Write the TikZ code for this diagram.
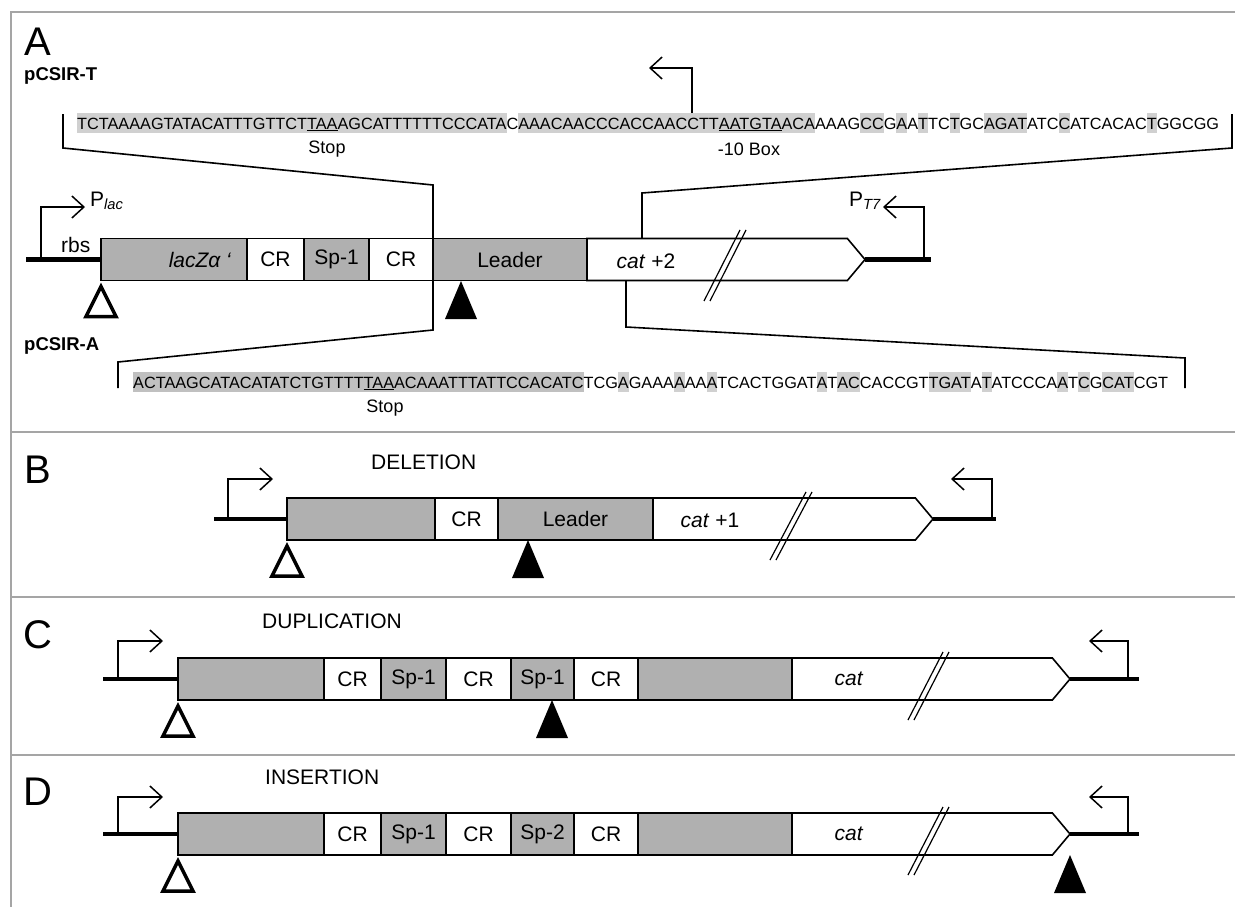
\documentclass[tikz,border=0pt]{standalone}
\usepackage{fontspec}
\setmainfont{Liberation Sans}
\usetikzlibrary{positioning, shapes.symbols, arrows.meta}
\definecolor{boxgray}{RGB}{176,176,176}
\definecolor{hlgray}{RGB}{208,208,208}
\definecolor{hldark}{RGB}{192,192,192}
\definecolor{framegray}{RGB}{165,165,165}
% highlighted bases
\newcommand{\seqhl}[1]{{\setlength{\fboxsep}{0pt}\colorbox{hlgray}{\rule[-4pt]{0pt}{20pt}#1}}}
\newcommand{\seqdk}[1]{{\setlength{\fboxsep}{0pt}\colorbox{hldark}{\rule[-4pt]{0pt}{20pt}#1}}}
\tikzset{
  opentri/.pic={\draw[line width=3.5pt, line join=miter] (0,6) -- (15,36) -- (-15,36) -- cycle;},
  filltri/.pic={\fill (0,0) -- (16,38) -- (-16,38) -- cycle;}
}
\begin{document}
\begin{tikzpicture}[x=1pt, y=-1pt,
		frame/.style={draw=framegray, line width=1.5pt},
		panel/.style={font=\fontsize{40}{44}\selectfont, inner sep=0pt},
		plasmid/.style={font=\bfseries\fontsize{18.5}{20}\selectfont, inner sep=0pt, anchor=west},
		seq/.style={font=\fontsize{16.27}{18}\selectfont, inner sep=0pt, anchor=base west},
		note/.style={font=\fontsize{18}{20}\selectfont, inner sep=0pt},
		mut/.style={font=\fontsize{21}{24}\selectfont, inner sep=0pt, anchor=west},
		seg/.style={rectangle, draw, line width=1.6pt, minimum height=42pt, inner sep=0pt, outer sep=0pt, font=\fontsize{21}{24}\selectfont},
		grayseg/.style={seg, fill=boxgray},
		whiteseg/.style={seg, fill=white},
		catseg/.style={seg, shape=signal, signal to=east, signal pointer angle=100, fill=white},
		lbl/.style={font=\fontsize{21}{24}\selectfont, inner sep=0pt},
		backbone/.style={line width=4.5pt},
		prom/.style={line width=1.5pt, -{Straight Barb[length=12pt, width=22pt, line width=1.5pt]}},
		bracket/.style={line width=1.6pt},
		cut/.style={line width=1.2pt}
		]
	\useasboundingbox (0,0) rectangle (1235,907);

	% --- frame ---
	\draw[frame] (1235,12) -- (11,12) -- (11,907);
	\draw[frame] (11,432) -- (1235,432);
	\draw[frame] (11,597) -- (1235,597);
	\draw[frame] (11,755) -- (1235,755);

	% --- A ---
	\node[panel] (labA) at (38,42) {A};
	\node[plasmid] (pT) at (24,76) {pCSIR-T};
	\node[plasmid] (pA) at (24,346) {pCSIR-A};

	\node[seq] (seqT) at (77,129) {\seqhl{TCTAAAAGTATACATTTGTTCT\underline{TAA}AGCATTTTTTCCCATA}C\seqhl{AAACAACCCACCAACCTT\underline{AATGTA}ACA}AAAG\seqhl{CC}G\seqhl{A}A\seqhl{T}TC\seqhl{T}GC\seqhl{AGAT}ATC\seqhl{C}ATCACAC\seqhl{T}GGCGG};
	\node[note] (stopT) at (327,149) {Stop};
	\node[note] (boxT) at (749,149) {-10 Box};

	\node[seq] (seqA) at (133,388) {\seqdk{ACTAAGCATACATATCTGTTTT\underline{TAA}ACAAATTTATTCCACATC}TCG\seqhl{A}GAAA\seqhl{A}AA\seqhl{A}TCACTGGAT\seqhl{A}T\seqhl{AC}CACCGT\seqhl{TGAT}A\seqhl{T}ATCCCA\seqhl{A}T\seqhl{C}G\seqhl{CAT}CGT};
	\node[note] (stopA) at (385,408) {Stop};

	\coordinate (m10) at (692,113);
	\coordinate (m10tip) at (649,68);
	\draw[prom] (m10) |- (m10tip);

	% gene
	\coordinate (bbA1) at (26,259.5);
	\node[grayseg, minimum width=146pt, anchor=west] (lacZ) at (101,259.5) {};
	\node[whiteseg, minimum width=57pt, right=0pt of lacZ] (crA1) {CR};
	\node[grayseg, minimum width=65pt, right=0pt of crA1] (spA) {Sp-1};
	\node[whiteseg, minimum width=64pt, right=0pt of spA] (crA2) {CR};
	\node[grayseg, minimum width=154pt, right=0pt of crA2] (ldrA) {Leader};
	\node[catseg, minimum width=278pt, right=0pt of ldrA] (catA) {};
	\coordinate (bbA2) at (931,259.5);
	\node[lbl] (lacZtxt) at (200,260) {\textit{lacZα ‘}};
	\node[lbl] (catAtxt) at (646,261) {\textit{cat} +2};
	\node[lbl, anchor=west] (rbs) at (61,245) {rbs};

	\draw[backbone] (bbA1) -- (lacZ.west);
	\draw[backbone] (catA.east) -- (bbA2);

	\coordinate (plac) at (41,259.5);
	\coordinate (plactip) at (85,207);
	\draw[prom] (plac) |- (plactip);
	\node[lbl, anchor=west] (Plac) at (90,201) {P\textsubscript{\itshape lac}};
	\coordinate (pt7) at (924,259.5);
	\coordinate (pt7tip) at (883,207);
	\draw[prom] (pt7) |- (pt7tip);
	\node[lbl, anchor=east] (PT7) at (881,201) {P\textsubscript{\itshape T7}};

	\draw[cut] (740,230) -- (704,301);
	\draw[cut] (746,230) -- (710,301);

	\pic at (lacZ.south west) {opentri};
	\pic at (461,281) {filltri};

	% brackets
	\coordinate (tL1) at (63,114);
	\coordinate (tL2) at (63,148);
	\coordinate (gL1) at (433,185);
	\coordinate (gL2) at (433,330);
	\coordinate (aL2) at (118,362);
	\coordinate (aL1) at (118,388);
	\draw[bracket] (tL1) -- (tL2) -- (gL1) -- (gL2) -- (aL2) -- (aL1);
	\coordinate (tR1) at (1232,114);
	\coordinate (tR2) at (1232,148);
	\coordinate (gR1) at (642,193);
	\coordinate (gR2) at (642,238);
	\draw[bracket] (tR1) -- (tR2) -- (gR1) -- (gR2);
	\coordinate (gR3) at (626,281);
	\coordinate (gR4) at (626,327);
	\coordinate (aR2) at (1185,358);
	\coordinate (aR1) at (1185,388);
	\draw[bracket] (gR3) -- (gR4) -- (aR2) -- (aR1);

	% --- B ---
	\node[panel] (labB) at (38,470) {B};
	\node[mut] (delB) at (371,462) {DELETION};
	\coordinate (bbB1) at (214,519);
	\node[grayseg, minimum width=148pt, anchor=west] (gB1) at (287,519) {};
	\node[whiteseg, minimum width=63pt, right=0pt of gB1] (crB) {CR};
	\node[grayseg, minimum width=155pt, right=0pt of crB] (ldrB) {Leader};
	\node[catseg, minimum width=280pt, right=0pt of ldrB] (catB) {};
	\coordinate (bbB2) at (996,519);
	\node[lbl] (catBtxt) at (710,520) {\textit{cat} +1};
	\draw[backbone] (bbB1) -- (gB1.west);
	\draw[backbone] (catB.east) -- (bbB2);
	\coordinate (pB1) at (228,519);
	\coordinate (pB1tip) at (273,479);
	\draw[prom] (pB1) |- (pB1tip);
	\coordinate (pB2) at (992,519);
	\coordinate (pB2tip) at (951,479);
	\draw[prom] (pB2) |- (pB2tip);
	\draw[cut] (806,492) -- (770,560);
	\draw[cut] (812,492) -- (776,560);
	\pic at (gB1.south west) {opentri};
	\pic at (528,540) {filltri};

	% --- C ---
	\node[panel] (labC) at (38,635) {C};
	\node[mut] (dupC) at (262,621) {DUPLICATION};
	\coordinate (bbC1) at (103,679);
	\node[grayseg, minimum width=146pt, anchor=west] (gC1) at (178,679) {};
	\node[whiteseg, minimum width=57pt, right=0pt of gC1] (crC1) {CR};
	\node[grayseg, minimum width=65pt, right=0pt of crC1] (spC1) {Sp-1};
	\node[whiteseg, minimum width=65pt, right=0pt of spC1] (crC2) {CR};
	\node[grayseg, minimum width=63pt, right=0pt of crC2] (spC2) {Sp-1};
	\node[whiteseg, minimum width=64pt, right=0pt of spC2] (crC3) {CR};
	\node[grayseg, minimum width=154pt, right=0pt of crC3] (gC2) {};
	\node[catseg, minimum width=278pt, right=0pt of gC2] (catC) {};
	\coordinate (bbC2) at (1139,679);
	\node[lbl] (catCtxt) at (849,679) {\textit{cat}};
	\draw[backbone] (bbC1) -- (gC1.west);
	\draw[backbone] (catC.east) -- (bbC2);
	\coordinate (pC1) at (118,679);
	\coordinate (pC1tip) at (163,641);
	\draw[prom] (pC1) |- (pC1tip);
	\coordinate (pC2) at (1128,679);
	\coordinate (pC2tip) at (1089,641);
	\draw[prom] (pC2) |- (pC2tip);
	\draw[cut] (943,652) -- (908,720);
	\draw[cut] (949,652) -- (914,720);
	\pic at (gC1.south west) {opentri};
	\pic at (552,700) {filltri};

	% --- D ---
	\node[panel] (labD) at (38,792) {D};
	\node[mut] (insD) at (265,777) {INSERTION};
	\coordinate (bbD1) at (103,834);
	\node[grayseg, minimum width=146pt, anchor=west] (gD1) at (178,834) {};
	\node[whiteseg, minimum width=57pt, right=0pt of gD1] (crD1) {CR};
	\node[grayseg, minimum width=65pt, right=0pt of crD1] (spD1) {Sp-1};
	\node[whiteseg, minimum width=65pt, right=0pt of spD1] (crD2) {CR};
	\node[grayseg, minimum width=63pt, right=0pt of crD2] (spD2) {Sp-2};
	\node[whiteseg, minimum width=64pt, right=0pt of spD2] (crD3) {CR};
	\node[grayseg, minimum width=154pt, right=0pt of crD3] (gD2) {};
	\node[catseg, minimum width=278pt, right=0pt of gD2] (catD) {};
	\coordinate (bbD2) at (1139,834);
	\node[lbl] (catDtxt) at (849,834) {\textit{cat}};
	\draw[backbone] (bbD1) -- (gD1.west);
	\draw[backbone] (catD.east) -- (bbD2);
	\coordinate (pD1) at (118,834);
	\coordinate (pD1tip) at (163,797);
	\draw[prom] (pD1) |- (pD1tip);
	\coordinate (pD2) at (1128,834);
	\coordinate (pD2tip) at (1089,797);
	\draw[prom] (pD2) |- (pD2tip);
	\draw[cut] (943,807) -- (908,875);
	\draw[cut] (949,807) -- (914,875);
	\pic at (gD1.south west) {opentri};
	\pic at (catD.east |- gD1.south) {filltri};

\end{tikzpicture}
\end{document}
